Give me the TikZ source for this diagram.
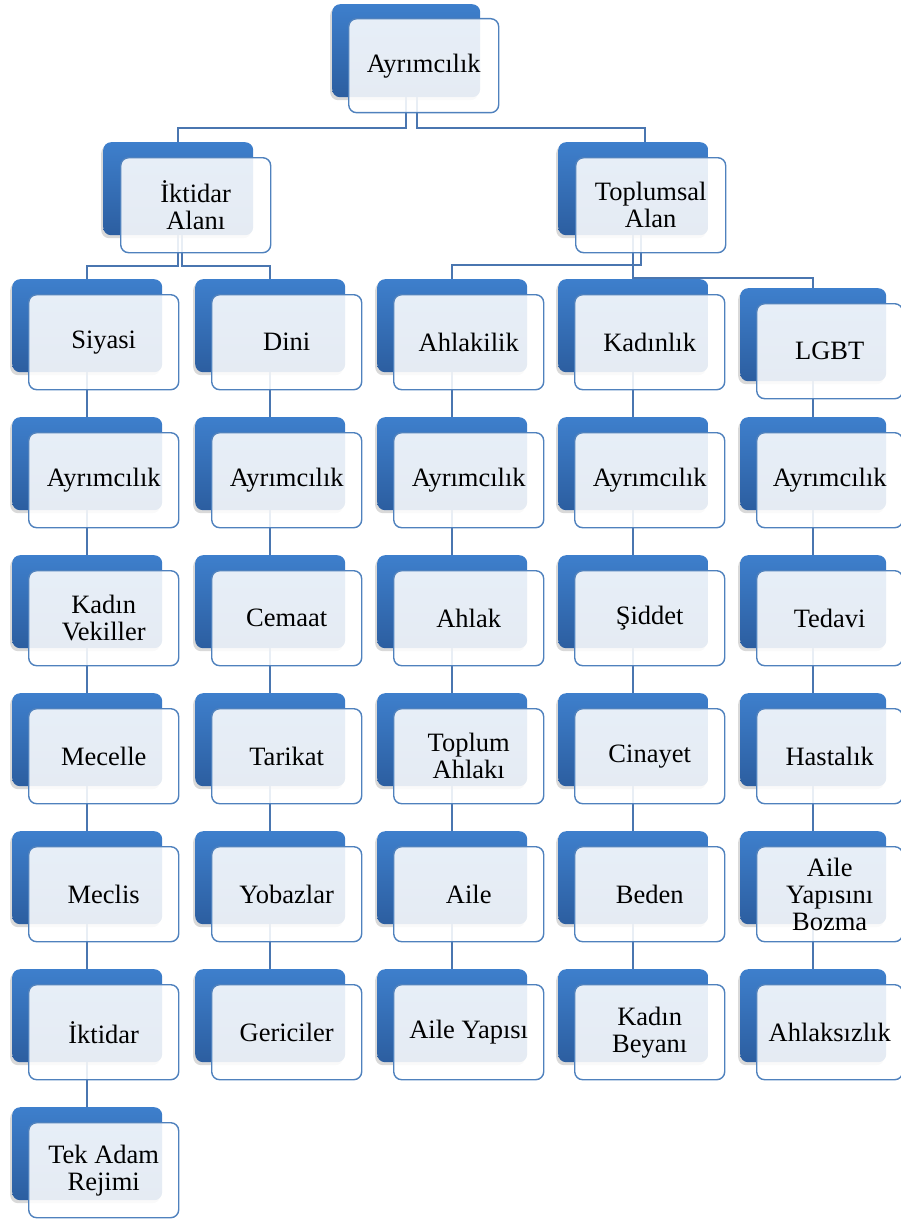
\documentclass[tikz,border=0pt]{standalone}
\usepackage{fontspec}
\setmainfont{Liberation Serif}
\newfontfamily\boxfont{Liberation Serif}
\usetikzlibrary{shadows,calc}
\definecolor{backtop}{RGB}{62,127,204}
\definecolor{backbot}{RGB}{44,94,160}
\definecolor{edge}{RGB}{79,129,189}
\definecolor{conncol}{RGB}{74,118,176}
\pgfdeclarelayer{bg}
\pgfsetlayers{bg,main}
\tikzset{
  backbox/.style={rectangle, rounded corners=8pt, anchor=north west, inner sep=0pt,
    minimum height=93pt, top color=backtop, bottom color=backbot, draw=none,
    drop shadow={opacity=0.3, shadow xshift=-2pt, shadow yshift=-3pt}},
  frontbox/.style={rectangle, rounded corners=8pt, anchor=north west, inner sep=0pt,
    minimum height=95pt, fill=white, fill opacity=0.88, text opacity=1,
    draw=edge, line width=1.4pt, align=center,
    font=\boxfont\fontsize{26.5}{27}\selectfont},
  conn/.style={draw=conncol, line width=1.5pt},
}
\newcommand\mkunit[5]{%
  \node[backbox, minimum width=#4pt] (#1b) at (#2,#3-62) {};
  \node[frontbox, minimum width=#4pt] (#1) at (#2+16,#3-47) {#5};}
\begin{document}
\begin{tikzpicture}[x=1pt,y=-1pt]
\useasboundingbox (0,0) rectangle (901,1220);
% top
\node[backbox, minimum width=148pt] (topb) at (332,4) {};
\node[frontbox, minimum width=150pt, minimum height=94pt] (top) at (348,18) {Ayrımcılık};
% level 2
\node[backbox, minimum width=150pt] (iktb) at (103,142) {};
\node[frontbox, minimum width=150pt] (ikt) at (120,157) {İktidar\\Alanı};
\node[backbox, minimum width=150pt] (toplb) at (558,142) {};
\node[frontbox, minimum width=150pt] (topl) at (575,157) {Toplumsal\\Alan};
% column 1
\mkunit{c1r1}{12}{341}{150}{Siyasi}
\mkunit{c1r2}{12}{479}{150}{Ayrımcılık}
\mkunit{c1r3}{12}{617}{150}{Kadın\\Vekiller}
\mkunit{c1r4}{12}{755}{150}{Mecelle}
\mkunit{c1r5}{12}{893}{150}{Meclis}
\mkunit{c1r6}{12}{1031}{150}{İktidar}
\mkunit{c1r7}{12}{1169}{150}{Tek Adam\\Rejimi}
% column 2
\mkunit{c2r1}{195}{341}{150}{Dini}
\mkunit{c2r2}{195}{479}{150}{Ayrımcılık}
\mkunit{c2r3}{195}{617}{150}{Cemaat}
\mkunit{c2r4}{195}{755}{150}{Tarikat}
\mkunit{c2r5}{195}{893}{150}{Yobazlar}
\mkunit{c2r6}{195}{1031}{150}{Gericiler}
% column 3
\mkunit{c3r1}{377}{341}{150}{Ahlakilik}
\mkunit{c3r2}{377}{479}{150}{Ayrımcılık}
\mkunit{c3r3}{377}{617}{150}{Ahlak}
\mkunit{c3r4}{377}{755}{150}{Toplum\\Ahlakı}
\mkunit{c3r5}{377}{893}{150}{Aile}
\mkunit{c3r6}{377}{1031}{150}{Aile Yapısı}
% column 4
\mkunit{c4r1}{558}{341}{150}{Kadınlık}
\mkunit{c4r2}{558}{479}{150}{Ayrımcılık}
\mkunit{c4r3}{558}{617}{150}{Şiddet}
\mkunit{c4r4}{558}{755}{150}{Cinayet}
\mkunit{c4r5}{558}{893}{150}{Beden}
\mkunit{c4r6}{558}{1031}{150}{Kadın\\Beyanı}
% column 5
\mkunit{c5r1}{740}{350}{146}{LGBT}
\mkunit{c5r2}{740}{479}{146}{Ayrımcılık}
\mkunit{c5r3}{740}{617}{146}{Tedavi}
\mkunit{c5r4}{740}{755}{146}{Hastalık}
\mkunit{c5r5}{740}{893}{146}{Aile\\Yapısını\\Bozma}
\mkunit{c5r6}{740}{1031}{146}{Ahlaksızlık}
% connectors
\coordinate (y1) at (0,128);
\coordinate (y2) at (0,266);
\coordinate (y3) at (0,265);
\coordinate (y4) at (0,278);
\begin{pgfonlayer}{bg}
\draw[conn] (topb.center) |- (iktb.north |- y1) -- (iktb.north);
\coordinate (tA) at ($(toplb.north)+(12,0)$);
\draw[conn] ($(topb.center)+(11,0)$) |- (tA |- y1) -- (tA);
\draw[conn] (iktb.center) |- (c1r1b.north |- y2) -- (c1r1b.north);
\draw[conn] ($(iktb.center)+(4,0)$) |- (c2r1b.north |- y2) -- (c2r1b.north);
\draw[conn] ($(toplb.center)+(8,0)$) |- (c3r1b.north |- y3) -- (c3r1b.north);
\draw[conn] (toplb.center) -- (toplb.center |- c4r1b.north);
\draw[conn] (toplb.center) |- (c5r1b.north |- y4) -- (c5r1b.north);
\foreach \cc/\nn in {1/6,2/5,3/5,4/5,5/5}{
  \foreach \rr in {1,...,\nn}{
    \pgfmathtruncatemacro\ss{\rr+1}
    \draw[conn] (c\cc r\rr b.center) -- (c\cc r\ss b.north);
  }
}
\end{pgfonlayer}
\end{tikzpicture}
\end{document}
